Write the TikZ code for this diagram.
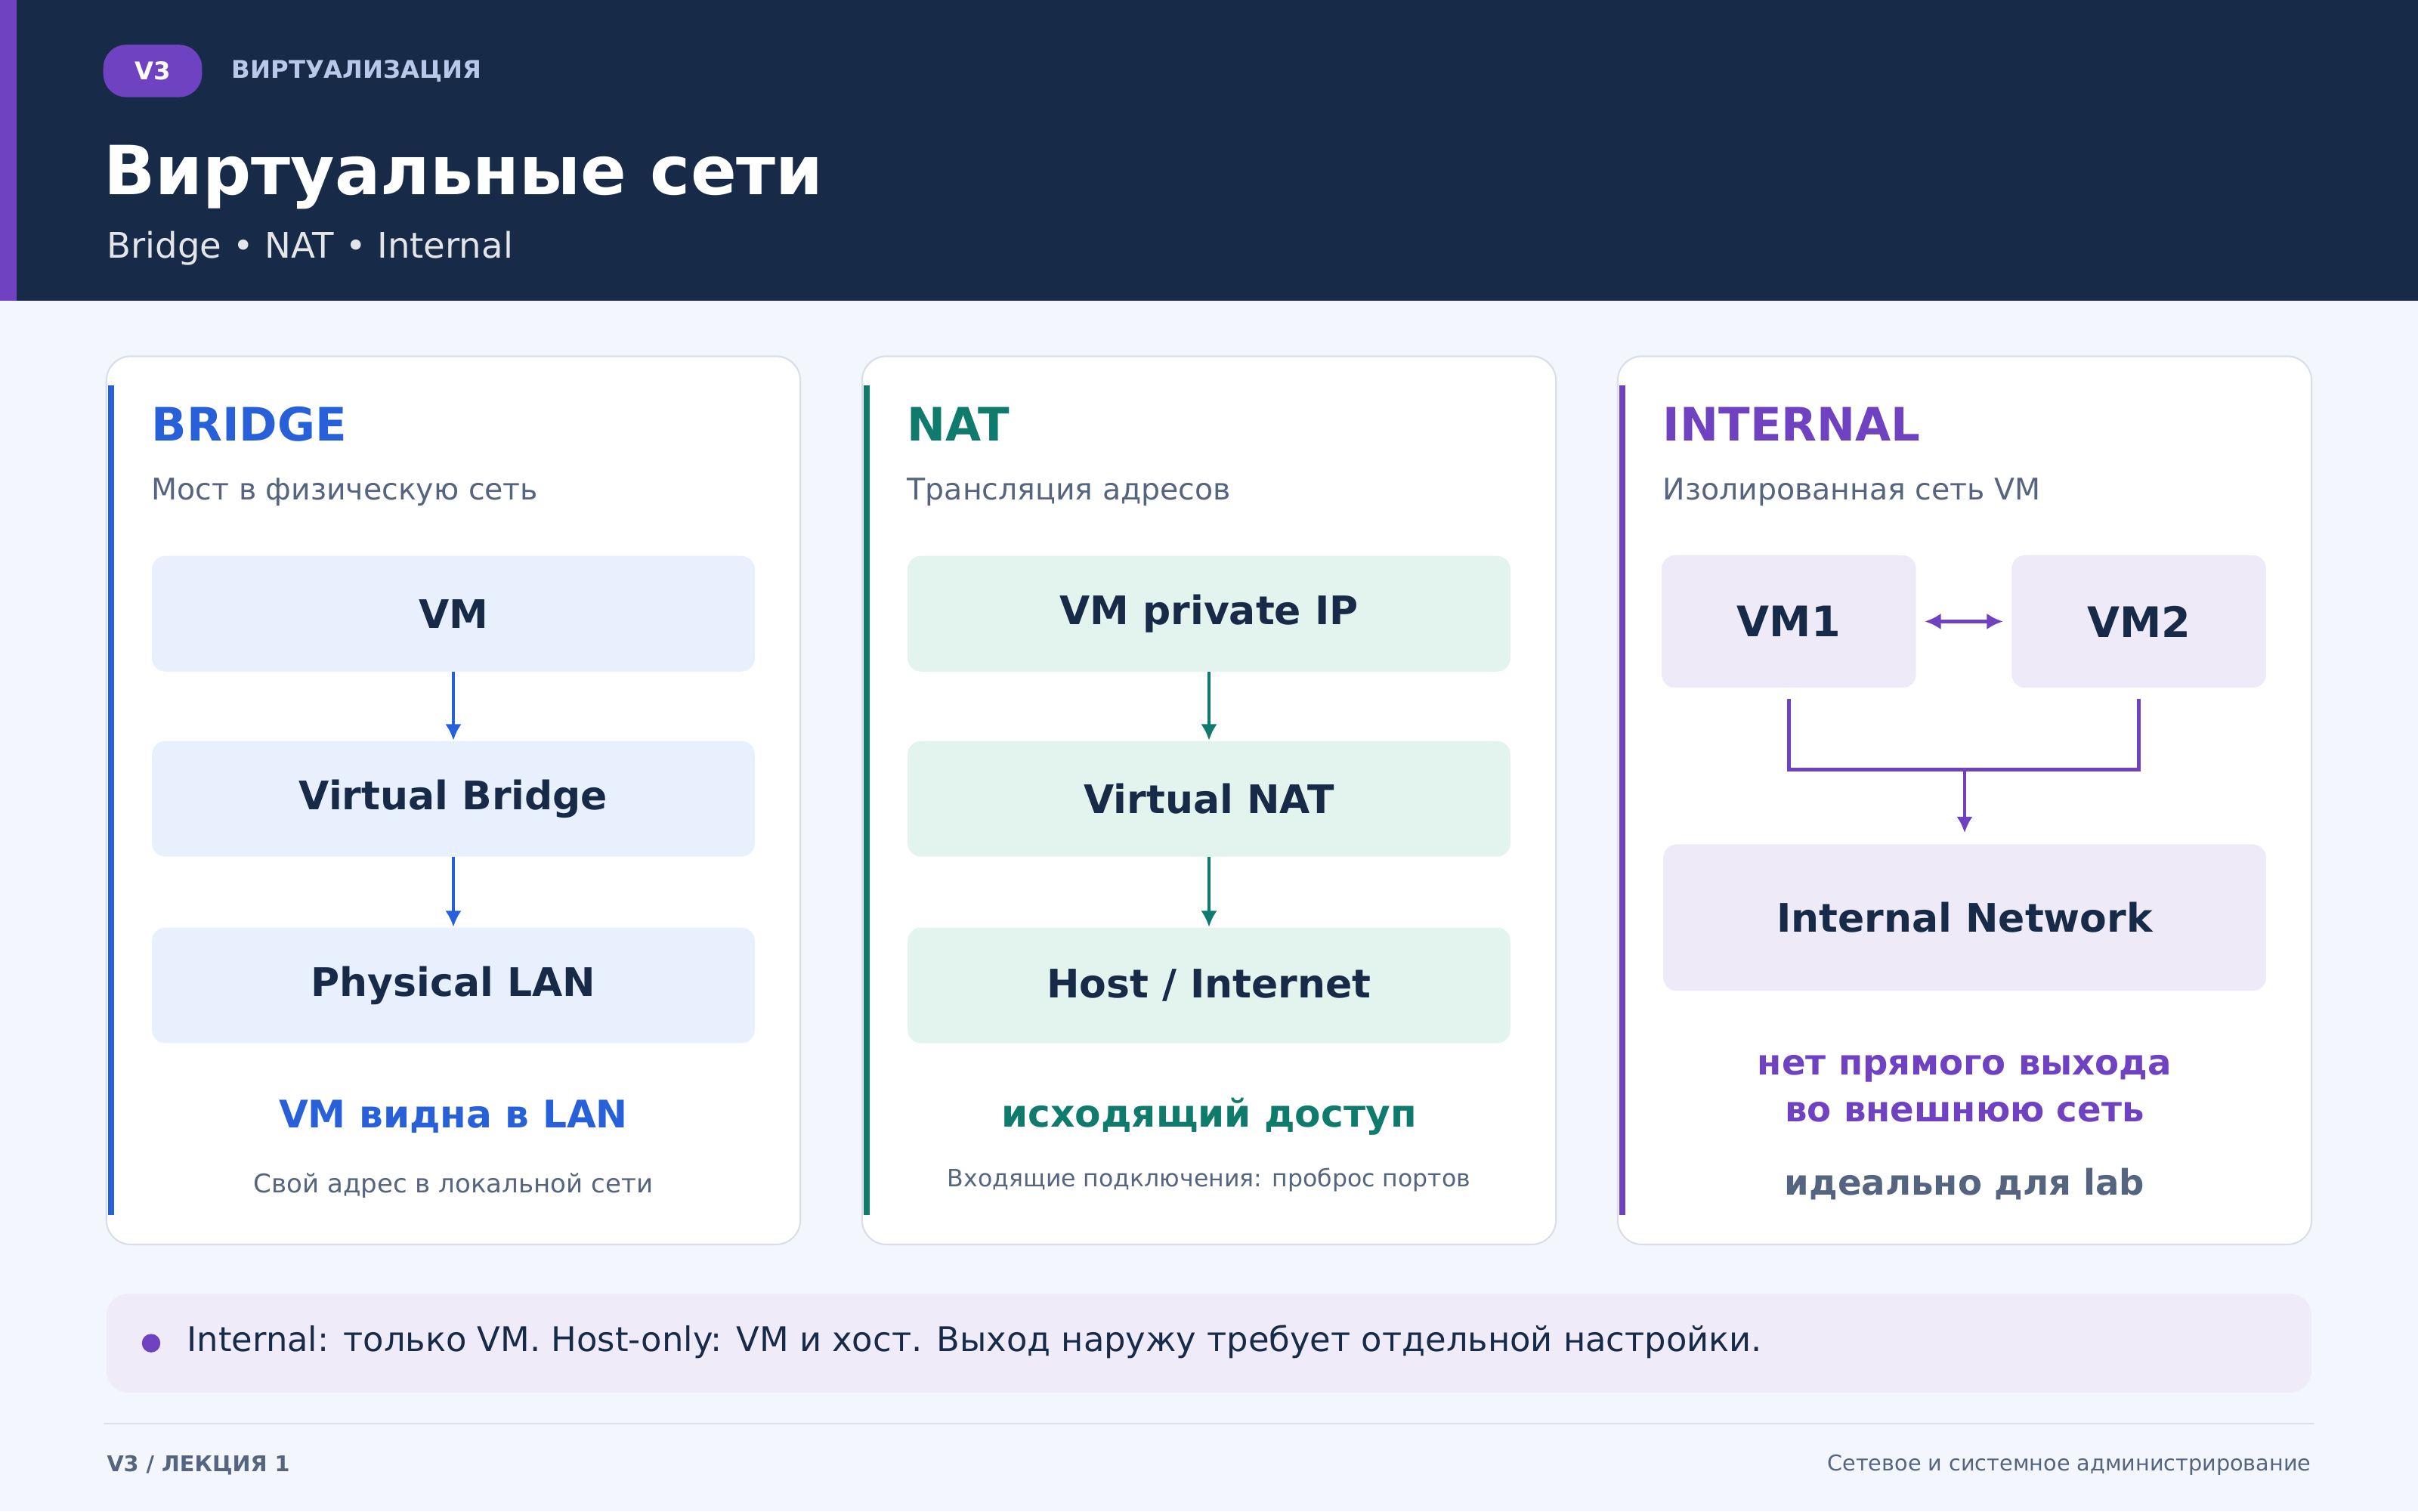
\documentclass[tikz,border=0pt]{standalone}
\usepackage{fontspec}
\setmainfont{DejaVu Sans}
\usetikzlibrary{arrows.meta,positioning,calc}
\definecolor{navy}{HTML}{172B48}
\definecolor{violet}{HTML}{6F42C1}
\definecolor{bblue}{HTML}{2760D8}
\definecolor{nteal}{HTML}{0E7B6C}
\definecolor{pagebg}{HTML}{F3F6FD}
\definecolor{cardline}{HTML}{D9DEE8}
\definecolor{muted}{HTML}{56657F}
\definecolor{fillblue}{HTML}{E8F0FE}
\definecolor{fillteal}{HTML}{E3F4EF}
\definecolor{fillviolet}{HTML}{EEEAF8}
\definecolor{notefill}{HTML}{EFEBF9}
\definecolor{kicker}{HTML}{B8C8EA}
\tikzset{
  card/.style={rounded corners=9pt, draw=cardline, line width=0.6pt, fill=white},
  cardtitle/.style={anchor=west, font=\bfseries\fontsize{17}{20}\selectfont},
  cardsub/.style={anchor=west, text=muted, font=\fontsize{11}{13}\selectfont},
  stage/.style={rounded corners=5pt, minimum width=7.82cm, minimum height=1.5cm, text=navy, font=\bfseries\fontsize{14.5}{17}\selectfont},
  flow/.style={-{Latex[length=6pt,width=6pt]}, line width=1.3pt},
  punch/.style={font=\bfseries\fontsize{14}{17}\selectfont},
  fine/.style={text=muted, font=\fontsize{9.5}{11}\selectfont}
}
\begin{document}
\begin{tikzpicture}[x=0.02cm, y=-0.02cm]
  \fill[pagebg] (0,0) rectangle (1568,980);
  \useasboundingbox (0,0) rectangle (1568,980);
  % header
  \fill[navy] (0,0) rectangle (1568,195);
  \fill[violet] (0,0) rectangle (11,195);
  \node[fill=violet, rounded corners=8.5pt, minimum width=1.28cm, minimum height=0.68cm, text=white, font=\bfseries\fontsize{9}{11}\selectfont] (tag) at (99,46) {V3};
  \node[anchor=west, text=kicker, font=\bfseries\fontsize{9}{11}\selectfont, inner sep=0pt] (kick) at (150,46) {ВИРТУАЛИЗАЦИЯ};
  \node[anchor=west, text=white, font=\bfseries\fontsize{25}{30}\selectfont, inner sep=0pt] (title) at (67,115) {Виртуальные сети};
  \node[anchor=west, text=white!88!navy, font=\fontsize{13}{15}\selectfont, inner sep=0pt] (subtitle) at (69,161) {Bridge • NAT • Internal};

  % cards
  \foreach \cx/\col/\name/\sub [count=\i] in {69/bblue/BRIDGE/Мост в физическую сеть, 559/nteal/NAT/Трансляция адресов, 1049/violet/INTERNAL/Изолированная сеть VM}{
    \draw[card] (\cx,231) rectangle ++(450,576);
    \fill[\col] (\cx+1,250) rectangle ++(4,538);
    \node[cardtitle, text=\col, inner sep=0pt] (ct\i) at (\cx+29,275) {\name};
    \node[cardsub, inner sep=0pt] (cs\i) at (\cx+29,319) {\sub};
  }

  % bridge
  \node[stage, fill=fillblue] (vm) at (294,398) {VM};
  \node[stage, fill=fillblue] (vbridge) at (294,518) {Virtual Bridge};
  \node[stage, fill=fillblue] (plan) at (294,639) {Physical LAN};
  \draw[flow, bblue] (vm) -- (vbridge);
  \draw[flow, bblue] (vbridge) -- (plan);
  \node[punch, text=bblue] (bnote) at (294,724) {VM видна в LAN};
  \node[fine] (bfine) at (294,769) {Свой адрес в локальной сети};

  % nat
  \node[stage, fill=fillteal] (vmip) at (784,398) {VM private IP};
  \node[stage, fill=fillteal] (vnat) at (784,518) {Virtual NAT};
  \node[stage, fill=fillteal] (host) at (784,639) {Host / Internet};
  \draw[flow, nteal] (vmip) -- (vnat);
  \draw[flow, nteal] (vnat) -- (host);
  \node[punch, text=nteal] (nnote) at (784,724) {исходящий доступ};
  \node[fine, font=\fontsize{8.8}{10}\selectfont] (nfine) at (784,765) {Входящие подключения: проброс портов};

  % internal
  \node[stage, fill=fillviolet, minimum width=3.3cm, minimum height=1.72cm, font=\bfseries\fontsize{15.5}{18}\selectfont] (vm1) at (1160,403) {VM1};
  \node[stage, fill=fillviolet, minimum width=3.3cm, minimum height=1.72cm, font=\bfseries\fontsize{15.5}{18}\selectfont] (vm2) at (1387,403) {VM2};
  \node[stage, fill=fillviolet, minimum height=1.9cm] (inet) at (1274,595) {Internal Network};
  \draw[{Latex[length=6pt,width=6pt]}-{Latex[length=6pt,width=6pt]}, line width=1.3pt, violet, shorten <=3pt, shorten >=3pt] (vm1) -- (vm2);
  \coordinate (join) at (1274,499);
  \draw[violet, line width=1.3pt, shorten <=4pt, shorten >=4pt] (vm1.south) |- (join) -| (vm2.south);
  \draw[flow, violet, shorten >=4pt] (join) -- (inet);
  \node[punch, text=violet, align=center, font=\bfseries\fontsize{13}{17.5}\selectfont] (inote) at (1274,706) {нет прямого выхода\\во внешнюю сеть};
  \node[punch, text=muted, font=\bfseries\fontsize{13}{15}\selectfont] (ilab) at (1274,768) {идеально для lab};

  % note bar
  \fill[notefill, rounded corners=8pt] (69,839) rectangle (1499,903);
  \fill[violet] (98,871) circle (6);
  \node[anchor=west, text=navy, font=\fontsize{12.5}{15}\selectfont, inner sep=0pt] (note) at (121,870) {Internal: только VM. Host-only: VM и хост. Выход наружу требует отдельной настройки.};

  % footer
  \draw[cardline, line width=0.6pt] (67,923) -- (1501,923);
  \node[anchor=west, text=muted, font=\bfseries\fontsize{8}{10}\selectfont, inner sep=0pt] (fleft) at (69,950) {V3 / ЛЕКЦИЯ 1};
  \node[anchor=east, text=muted, font=\fontsize{8}{10}\selectfont, inner sep=0pt] (fright) at (1499,950) {Сетевое и системное администрирование};
\end{tikzpicture}
\end{document}
